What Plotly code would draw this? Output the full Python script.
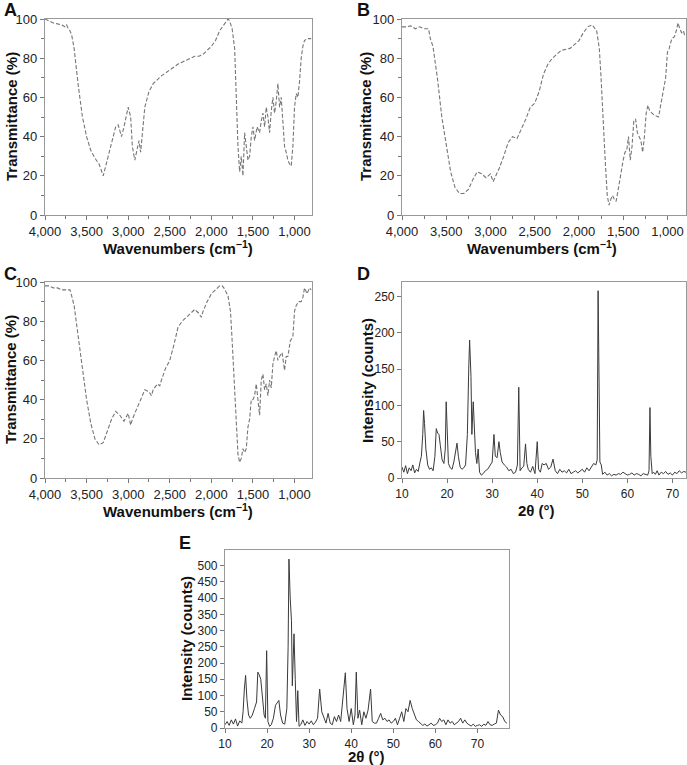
import plotly.graph_objects as go

# --- FTIR spectra (wavenumber cm-1, transmittance %) ---
wn_a = [4000, 3950, 3900, 3850, 3800, 3760, 3740, 3720, 3700, 3680, 3650, 3600, 3550, 3500,
        3450, 3400, 3350, 3300, 3250, 3200, 3150, 3120, 3080, 3050, 3000, 2970, 2950, 2920,
        2890, 2870, 2850, 2830, 2800, 2750, 2700, 2600, 2500, 2400, 2300, 2200, 2150, 2100,
        2000, 1950, 1900, 1850, 1800, 1780, 1750, 1720, 1700, 1680, 1660, 1640, 1620, 1600,
        1580, 1560, 1540, 1520, 1500, 1480, 1450, 1420, 1400, 1380, 1360, 1340, 1320, 1300,
        1280, 1260, 1240, 1220, 1200, 1180, 1160, 1140, 1120, 1100, 1080, 1060, 1040, 1020,
        1000, 980, 960, 940, 920, 900, 880, 850, 820, 800]
tr_a = [100, 99, 98, 97.5, 97, 96, 97, 95, 94, 92, 85, 66, 50, 40,
        33, 29, 26, 20, 28, 37, 45, 46, 40, 45, 55, 50, 35, 28,
        35, 38, 32, 40, 55, 63, 67, 71, 74, 77, 79, 81, 81, 82,
        86, 89, 94, 97, 100, 99, 95, 85, 60, 35, 22, 30, 20, 42,
        35, 28, 30, 40, 45, 38, 45, 42, 48, 52, 45, 55, 50, 42,
        53, 60, 52, 58, 67, 55, 60, 45, 35, 32, 28, 26, 25, 35,
        55, 62, 60, 68, 80, 86, 89, 90, 90, 90]

wn_b = [4000, 3950, 3900, 3850, 3800, 3750, 3700, 3680, 3650, 3600, 3550, 3500, 3450, 3400,
        3350, 3300, 3250, 3200, 3150, 3100, 3050, 3000, 2970, 2950, 2900, 2850, 2800, 2750,
        2700, 2650, 2600, 2550, 2500, 2450, 2400, 2350, 2300, 2200, 2100, 2000, 1950, 1900,
        1850, 1800, 1770, 1750, 1730, 1700, 1680, 1660, 1640, 1620, 1600, 1580, 1560, 1540,
        1500, 1480, 1460, 1440, 1420, 1400, 1380, 1360, 1340, 1300, 1280, 1260, 1240, 1220,
        1200, 1150, 1100, 1080, 1050, 1020, 1000, 980, 950, 920, 900, 880, 860, 840, 820, 800]
tr_b = [96, 96, 96.5, 95, 96, 95, 95, 90, 86, 70, 50, 35, 22, 14,
        11, 11, 13, 18, 22, 21, 19, 21, 17, 19, 24, 30, 37, 40,
        39, 44, 49, 55, 57, 63, 72, 77, 80, 84, 85, 89, 93, 96,
        97, 94, 85, 70, 50, 25, 10, 5, 8, 10, 8, 7, 12, 18,
        28, 32, 33, 40, 28, 35, 48, 49, 42, 38, 32, 40, 52, 56,
        53, 51, 50, 55, 62, 70, 83, 85, 90, 91, 94, 98, 95, 93, 94, 91]

wn_c = [4000, 3950, 3900, 3850, 3800, 3750, 3700, 3680, 3650, 3600, 3550, 3500, 3450, 3400,
        3350, 3300, 3250, 3200, 3150, 3100, 3050, 3000, 2970, 2950, 2900, 2850, 2800, 2750,
        2720, 2700, 2650, 2620, 2600, 2550, 2500, 2450, 2400, 2350, 2300, 2250, 2200, 2150,
        2120, 2100, 2050, 2000, 1950, 1900, 1870, 1850, 1800, 1770, 1750, 1720, 1700, 1680,
        1660, 1640, 1620, 1600, 1580, 1560, 1540, 1520, 1500, 1480, 1460, 1440, 1420, 1400,
        1380, 1360, 1340, 1320, 1300, 1280, 1260, 1240, 1220, 1200, 1180, 1150, 1120, 1100,
        1080, 1050, 1020, 1000, 980, 950, 920, 900, 880, 850, 820, 800]
tr_c = [98, 98, 97, 97, 96, 96, 96, 93, 88, 72, 55, 40, 28, 20,
        17, 18, 24, 30, 34, 32, 29, 33, 27, 30, 35, 40, 45, 44,
        42, 45, 48, 47, 50, 56, 60, 68, 77, 80, 82, 84, 86, 84,
        82, 85, 90, 94, 96, 98, 98, 97, 93, 85, 70, 45, 25, 12,
        8, 10, 15, 13, 15, 26, 30, 40, 40, 42, 48, 38, 32, 50,
        53, 45, 48, 42, 50, 46, 58, 62, 65, 60, 62, 64, 55, 62,
        62, 70, 72, 85, 88, 90, 90, 92, 97, 94, 97, 96]

# --- XRD patterns (2-theta degrees, counts) ---
tt_d = [10, 10.4, 10.8, 11.2, 11.6, 12, 12.4, 12.8, 13.2, 13.6, 14, 14.3, 14.6, 14.8, 15.0,
        15.3, 15.7, 16.1, 16.5, 16.9, 17.3, 17.6, 17.9, 18.2, 18.5, 18.9, 19.3, 19.6, 19.8,
        20.0, 20.3, 20.7, 21.1, 21.5, 21.9, 22.2, 22.5, 22.9, 23.3, 23.7, 24.1, 24.5, 24.8,
        25.0, 25.3, 25.5, 25.8, 26.0, 26.3, 26.6, 26.9, 27.2, 27.6, 28.0, 28.5, 29.0, 29.5,
        30.0, 30.4, 30.7, 31.1, 31.5, 31.8, 32.2, 32.7, 33.2, 33.7, 34.2, 34.7, 35.2, 35.6,
        35.9, 36.2, 36.6, 37.0, 37.4, 37.7, 38.0, 38.5, 39.0, 39.5, 40.0, 40.3, 40.7, 41.1,
        41.5, 42.0, 42.5, 43.0, 43.5, 44.0, 44.5, 45.0, 45.5, 46.0, 46.5, 47.0, 47.5, 48.0,
        48.5, 49.0, 49.5, 50.0, 50.5, 51.0, 51.5, 52.0, 52.5, 53.0, 53.3, 53.5, 53.7, 53.9,
        54.2, 54.5, 55.0, 55.5, 56.0, 56.5, 57.0, 57.5, 58.0, 58.5, 59.0, 59.5, 60.0, 60.5,
        61.0, 61.5, 62.0, 62.5, 63.0, 63.5, 64.0, 64.5, 64.8, 65.0, 65.2, 65.5, 65.8, 66.2,
        66.6, 67.0, 67.5, 68.0, 68.5, 69.0, 69.5, 70.0, 70.5, 71.0, 71.5, 72.0, 72.5, 73.0]
ct_d = [15, 8, 17, 6, 14, 10, 18, 7, 12, 9, 22, 30, 60, 93, 75,
        40, 18, 12, 14, 10, 30, 68, 62, 60, 45, 25, 20, 40, 105,
        60, 20, 14, 12, 22, 35, 48, 30, 15, 12, 14, 18, 60, 150,
        190, 140, 60, 105, 80, 35, 20, 40, 8, 4, 6, 10, 12, 18,
        22, 60, 30, 28, 50, 35, 22, 18, 15, 10, 12, 6, 8, 18,
        125, 10, 14, 16, 47, 20, 12, 8, 16, 6, 50, 12, 8, 20,
        18, 20, 12, 15, 26, 10, 6, 12, 8, 10, 7, 12, 6, 8,
        10, 7, 9, 12, 8, 14, 10, 16, 20, 18, 25, 258, 70, 22,
        18, 5, 8, 4, 6, 3, 5, 4, 6, 5, 8, 6, 4, 5,
        7, 4, 6, 5, 3, 6, 5, 4, 10, 97, 30, 6, 8, 5,
        10, 4, 8, 6, 9, 5, 7, 4, 8, 6, 10, 7, 9, 8]

tt_e = [10, 10.5, 11, 11.5, 12, 12.5, 13, 13.5, 14, 14.3, 14.6, 14.9, 15.2, 15.6, 16.0, 16.5,
        17.0, 17.5, 17.8, 18.1, 18.5, 18.9, 19.3, 19.6, 19.9, 20.2, 20.6, 21.0, 21.5, 22.0,
        22.5, 22.8, 23.2, 23.7, 24.2, 24.7, 25.0, 25.2, 25.5, 25.8, 26.0, 26.4, 26.7, 27.0,
        27.3, 27.6, 28.0, 28.5, 29.0, 29.5, 30.0, 30.5, 31.0, 31.5, 32.0, 32.5, 33.0, 33.5,
        34.0, 34.5, 35.0, 35.5, 36.0, 36.5, 37.0, 37.5, 38.0, 38.6, 39.0, 39.5, 40.0, 40.5,
        40.9, 41.2, 41.6, 42.0, 42.5, 43.0, 43.5, 44.0, 44.6, 45.0, 45.5, 46.0, 46.5, 47.0,
        47.5, 48.0, 48.5, 49.0, 49.5, 50.0, 50.5, 51.0, 51.5, 52.0, 52.5, 53.0, 53.5, 54.0,
        54.5, 55.0, 55.5, 56.0, 56.5, 57.0, 57.5, 58.0, 58.5, 59.0, 59.5, 60.0, 60.5, 61.0,
        61.5, 62.0, 62.5, 63.0, 63.5, 64.0, 64.5, 65.0, 65.5, 66.0, 66.5, 67.0, 67.5, 68.0,
        68.5, 69.0, 69.5, 70.0, 70.5, 71.0, 71.5, 72.0, 72.5, 73.0, 73.5, 74.0, 74.5, 75.0,
        75.5, 76.0, 76.5, 77.0]
ct_e = [10, 20, 8, 25, 12, 28, 6, 22, 15, 50, 120, 162, 90, 40, 30, 40,
        60, 80, 172, 165, 150, 90, 40, 30, 238, 20, 5, 10, 30, 70,
        80, 85, 40, 15, 12, 60, 250, 520, 400, 330, 130, 290, 150, 20,
        115, 5, 10, 25, 8, 20, 12, 22, 10, 18, 30, 120, 50, 30,
        15, 45, 15, 10, 35, 20, 40, 20, 80, 170, 60, 20, 60, 10,
        40, 172, 30, 55, 10, 50, 30, 55, 120, 20, 15, 15, 30, 45,
        25, 30, 20, 25, 15, 20, 30, 10, 30, 50, 20, 60, 50, 85,
        60, 45, 25, 20, 15, 8, 12, 6, 10, 15, 8, 10, 15, 30,
        20, 25, 10, 25, 15, 20, 10, 15, 20, 30, 15, 25, 15, 10,
        6, 12, 5, 8, 10, 5, 12, 8, 20, 10, 8, 12, 15, 55,
        40, 35, 20, 15]

W, H = 687, 765
FONT = "Liberation Sans, Arial, sans-serif"
WN_TITLE = "<b>Wavenumbers (cm<sup>−1</sup>)</b>"


def px_x(v):
    return v / W


def px_y(v):
    return 1 - v / H


# key, x px, y px, letter, letter pos, y-title pos, x-title pos, x-title, y-title
panels = [
    ("", (45, 312), (19, 215), "A", (2, 10), (11, 117), (178, 248), WN_TITLE,
     "<b>Transmittance (%)</b>"),
    ("2", (402, 686), (19, 215), "B", (355, 10), (365, 117), (542, 248), WN_TITLE,
     "<b>Transmittance (%)</b>"),
    ("3", (45, 312), (282, 478), "C", (2, 274), (10, 380), (178, 510), WN_TITLE,
     "<b>Transmittance (%)</b>"),
    ("4", (402, 686), (282, 478), "D", (355, 274), (367, 380), (536, 510), "<b>2θ (°)</b>",
     "<b>Intensity (counts)</b>"),
    ("5", (225, 509), (550, 728), "E", (177, 543), (186, 639), (367, 756), "<b>2θ (°)</b>",
     "<b>Intensity (counts)</b>"),
]

fig = go.Figure()
for i, (x, y) in enumerate([(wn_a, tr_a), (wn_b, tr_b), (wn_c, tr_c)]):
    k = panels[i][0]
    fig.add_trace(go.Scatter(x=x, y=y, mode="lines", xaxis="x" + k, yaxis="y" + k,
                             line=dict(color="#767676", width=1.1, dash="4px,2px")))
for i, (x, y) in enumerate([(tt_d, ct_d), (tt_e, ct_e)]):
    k = panels[3 + i][0]
    fig.add_trace(go.Scatter(x=x, y=y, mode="lines", xaxis="x" + k, yaxis="y" + k,
                             line=dict(color="#3a3a3a", width=1)))

axis_common = dict(showline=True, mirror=True, linecolor="#999999", linewidth=1.2,
                   ticks="outside", ticklen=4, tickcolor="#777777", showgrid=False,
                   zeroline=False, automargin=False,
                   tickfont=dict(family=FONT, size=13, color="#222"))
minor_ticks = dict(ticks="outside", ticklen=3, tickcolor="#777777", showgrid=False)
small_font = dict(family=FONT, size=12, color="#222")

layout = dict(width=W, height=H, margin=dict(l=0, r=0, t=0, b=0), showlegend=False,
              paper_bgcolor="white", plot_bgcolor="white", annotations=[])
ann = layout["annotations"]

for idx, (k, xp, yp, letter, lp, ytp, xtp, xt, yt) in enumerate(panels):
    xa = dict(axis_common, domain=[px_x(xp[0]), px_x(xp[1])], anchor="y" + k)
    ya = dict(axis_common, domain=[px_y(yp[1]), px_y(yp[0])], anchor="x" + k)
    if idx < 3:
        xa.update(range=[4000, 790], tickvals=[4000, 3500, 3000, 2500, 2000, 1500, 1000],
                  tickformat=",d", minor=dict(minor_ticks, dtick=250, tick0=4000))
        ya.update(range=[0, 100], dtick=20, minor=dict(minor_ticks, dtick=10))
    elif idx == 3:
        xa.update(range=[10, 73], dtick=10, tickfont=small_font)
        ya.update(range=[0, 270], dtick=50, tickfont=small_font)
    else:
        xa.update(range=[10, 77.5], dtick=10, tickfont=small_font)
        ya.update(range=[0, 548], dtick=50, tickfont=small_font)
    layout["xaxis" + k] = xa
    layout["yaxis" + k] = ya
    ann.append(dict(text="<b>" + letter + "</b>", x=px_x(lp[0]), y=px_y(lp[1]),
                    xanchor="left", yanchor="middle"))
    ann.append(dict(text=yt, x=px_x(ytp[0]), y=px_y(ytp[1]), textangle=-90,
                    xanchor="center", yanchor="middle",
                    font=dict(family=FONT, size=15, color="#111")))
    ann.append(dict(text=xt, x=px_x(xtp[0]), y=px_y(xtp[1]),
                    xanchor="center", yanchor="middle",
                    font=dict(family=FONT, size=15, color="#111")))

for a in ann:
    a.update(xref="paper", yref="paper", showarrow=False)
    a.setdefault("font", dict(family=FONT, size=18, color="#111"))

fig.update_layout(**layout)
# drop the default page margin so the figure sits at the window's top-left corner
fig.write_html("out.html", config={"displayModeBar": False},
               post_script="document.body.style.margin='0';")
